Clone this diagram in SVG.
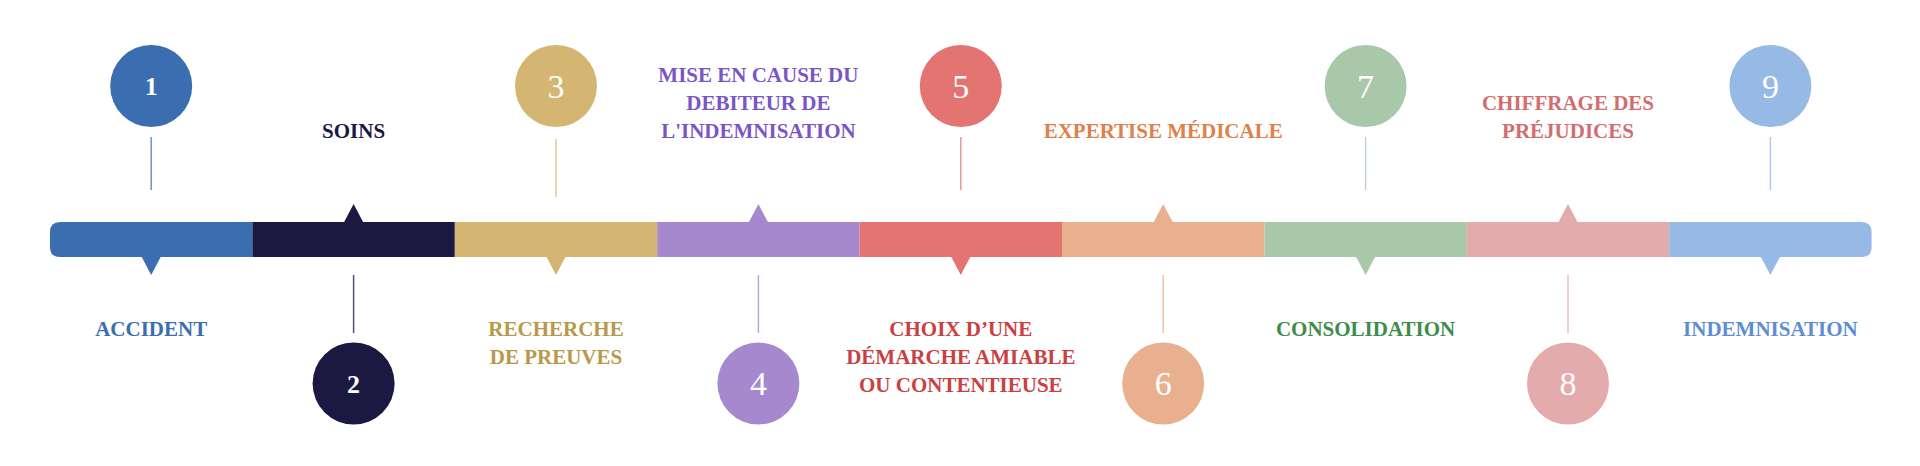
<svg xmlns="http://www.w3.org/2000/svg" width="1920" height="466" viewBox="0 0 1920 466">
<style>
.lbl{font-family:"Liberation Serif","Times New Roman",serif;font-weight:bold;font-size:21px;text-anchor:middle}
.num{font-family:"Liberation Serif","Times New Roman",serif;font-size:34px;fill:#ffffff;text-anchor:middle}
.numb{font-family:"Liberation Serif","Times New Roman",serif;font-weight:bold;font-size:26px;fill:#ffffff;text-anchor:middle}
.stem{stroke-width:1.5;fill:none;stroke-opacity:0.75}
</style>
<rect width="1920" height="466" fill="#ffffff"/>
<g id="timeline-bar">
<path d="M60,222 H252.4 V257 H60 Q50,257 50,247 V232 Q50,222 60,222 Z" fill="#3b6eb0"/>
<rect x="252.4" y="222" width="202.4" height="35" fill="#1b1842"/>
<rect x="454.8" y="222" width="202.4" height="35" fill="#d4b672"/>
<rect x="657.2" y="222" width="202.4" height="35" fill="#a688cf"/>
<rect x="859.6" y="222" width="202.4" height="35" fill="#e37472"/>
<rect x="1062" y="222" width="202.4" height="35" fill="#e8b08f"/>
<rect x="1264.4" y="222" width="202.4" height="35" fill="#a9c8aa"/>
<rect x="1466.8" y="222" width="202.4" height="35" fill="#e3abab"/>
<path d="M1669.2,222 H1861.6 Q1871.6,222 1871.6,232 V247 Q1871.6,257 1861.6,257 H1669.2 Z" fill="#97b9e6"/>
</g>
<g id="connectors">
<path class="stem" stroke="#3b6eb0" d="M151.2,137 V190"/>
<path class="stem" stroke="#1b1842" d="M353.6,275 V333"/>
<path class="stem" stroke="#d4b672" d="M556,139 V197"/>
<path class="stem" stroke="#a688cf" d="M758.4,275 V333"/>
<path class="stem" stroke="#e37472" d="M960.8,137 V190"/>
<path class="stem" stroke="#e8b08f" d="M1163.2,275 V333"/>
<path class="stem" stroke="#a9c8aa" d="M1365.6,137 V190"/>
<path class="stem" stroke="#e3abab" d="M1568,275 V333"/>
<path class="stem" stroke="#97b9e6" d="M1770.4,137 V190"/>
<path d="M141.2,256 L161.2,256 L151.2,275 Z" fill="#3b6eb0"/>
<path d="M343.6,223 L363.6,223 L353.6,204 Z" fill="#1b1842"/>
<path d="M546,256 L566,256 L556,275 Z" fill="#d4b672"/>
<path d="M748.4,223 L768.4,223 L758.4,204 Z" fill="#a688cf"/>
<path d="M950.8,256 L970.8,256 L960.8,275 Z" fill="#e37472"/>
<path d="M1153.2,223 L1173.2,223 L1163.2,204 Z" fill="#e8b08f"/>
<path d="M1355.6,256 L1375.6,256 L1365.6,275 Z" fill="#a9c8aa"/>
<path d="M1558,223 L1578,223 L1568,204 Z" fill="#e3abab"/>
<path d="M1760.4,256 L1780.4,256 L1770.4,275 Z" fill="#97b9e6"/>
</g>
<g id="step1">
<circle cx="151.2" cy="86" r="41" fill="#3b6eb0"/>
<text class="numb" x="151.2" y="95">1</text>
<text class="lbl" x="151.2" y="336" fill="#3b6eb0">ACCIDENT</text>
</g>
<g id="step2">
<circle cx="353.6" cy="383.5" r="41" fill="#1b1842"/>
<text class="numb" x="353.6" y="393">2</text>
<text class="lbl" x="353.6" y="138" fill="#1b1842">SOINS</text>
</g>
<g id="step3">
<circle cx="556" cy="86" r="41" fill="#d4b672"/>
<text class="num" x="556" y="97.5">3</text>
<text class="lbl" x="556" y="336" fill="#b8994a">RECHERCHE</text>
<text class="lbl" x="556" y="364" fill="#b8994a">DE PREUVES</text>
</g>
<g id="step4">
<circle cx="758.4" cy="383.5" r="41" fill="#a688cf"/>
<text class="num" x="758.4" y="395">4</text>
<text class="lbl" x="758.4" y="82" fill="#7b55c5">MISE EN CAUSE DU</text>
<text class="lbl" x="758.4" y="110" fill="#7b55c5">DEBITEUR DE</text>
<text class="lbl" x="758.4" y="138" fill="#7b55c5">L'INDEMNISATION</text>
</g>
<g id="step5">
<circle cx="960.8" cy="86" r="41" fill="#e37472"/>
<text class="num" x="960.8" y="97.5">5</text>
<text class="lbl" x="960.8" y="336" fill="#c9403f">CHOIX D’UNE</text>
<text class="lbl" x="960.8" y="364" fill="#c9403f">DÉMARCHE AMIABLE</text>
<text class="lbl" x="960.8" y="392" fill="#c9403f">OU CONTENTIEUSE</text>
</g>
<g id="step6">
<circle cx="1163.2" cy="383.5" r="41" fill="#e8b08f"/>
<text class="num" x="1163.2" y="395">6</text>
<text class="lbl" x="1163.2" y="138" fill="#e0804a">EXPERTISE MÉDICALE</text>
</g>
<g id="step7">
<circle cx="1365.6" cy="86" r="41" fill="#a9c8aa"/>
<text class="num" x="1365.6" y="97.5">7</text>
<text class="lbl" x="1365.6" y="336" fill="#3e8c4c">CONSOLIDATION</text>
</g>
<g id="step8">
<circle cx="1568" cy="383.5" r="41" fill="#e3abab"/>
<text class="num" x="1568" y="395">8</text>
<text class="lbl" x="1568" y="110" fill="#d26d6f">CHIFFRAGE DES</text>
<text class="lbl" x="1568" y="138" fill="#d26d6f">PRÉJUDICES</text>
</g>
<g id="step9">
<circle cx="1770.4" cy="86" r="41" fill="#97b9e6"/>
<text class="num" x="1770.4" y="97.5">9</text>
<text class="lbl" x="1770.4" y="336" fill="#5d8dd3">INDEMNISATION</text>
</g>
</svg>
